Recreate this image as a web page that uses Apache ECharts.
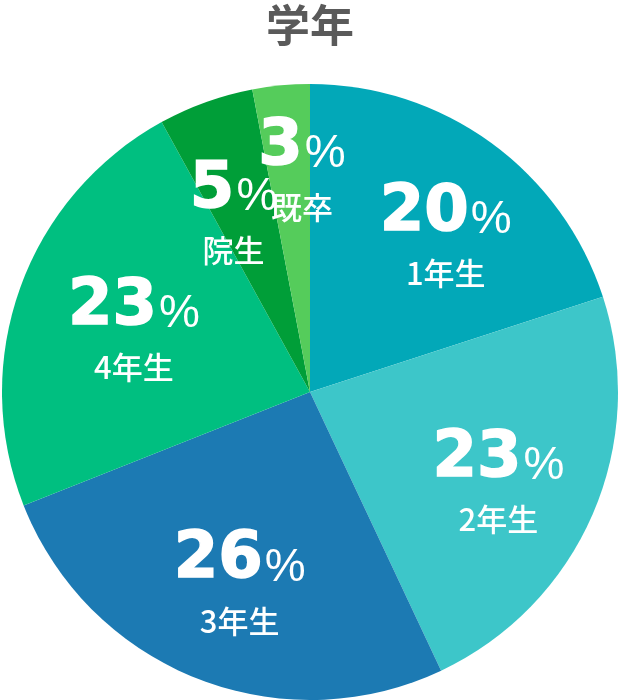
<!DOCTYPE html>
<html>
<head>
<meta charset="utf-8">
<script src="https://cdn.jsdelivr.net/npm/echarts@6/dist/echarts.min.js"></script>
<style>
html,body{margin:0;padding:0;background:#fff;}
#chart{width:620px;height:700px;}
</style>
</head>
<body>
<div id="chart"></div>
<script>
var titleText = '学年';
var categories = ['1年生', '2年生', '3年生', '4年生', '院生', '既卒'];
var values = [20, 23, 26, 23, 5, 3];
var colors = ['#02A8B8', '#3DC6C9', '#1C7AB3', '#00BF80', '#009E38', '#55CC5B'];

// style-only: radial distance of labels (px) and small per-label nudges
var LABEL_R = 202;
var labelOffsets = {
  '1年生': [13, 4],
  '2年生': [-1, 6],
  '4年生': [10, 3],
  '院生': [-12, 7],
  '既卒': [7, -25]
};

var total = values.reduce(function (a, b) { return a + b; }, 0);

var pieData = categories.map(function (c, i) {
  return { name: c, value: values[i], itemStyle: { color: colors[i] } };
});

// label anchors: mid-angle of each slice, placed through a polar coordinate system
var cum = 0;
var labelData = categories.map(function (c, i) {
  var mid = cum + values[i] / 2;
  cum += values[i];
  var d = { name: c, value: [LABEL_R, mid, values[i]] };
  if (labelOffsets[c]) d.label = { offset: labelOffsets[c] };
  return d;
});

var chart = echarts.init(document.getElementById('chart'));
chart.setOption({
  animation: false,
  title: {
    text: titleText,
    left: 'center',
    top: -2,
    textStyle: {
      fontFamily: '"Noto Sans CJK JP", sans-serif',
      fontSize: 44,
      fontWeight: 'bold',
      color: '#5a5a5a'
    }
  },
  polar: { center: [314, 402], radius: 308 },
  angleAxis: {
    type: 'value', min: 0, max: total, startAngle: 90, clockwise: true,
    axisLine: { show: false }, axisTick: { show: false },
    axisLabel: { show: false }, splitLine: { show: false }
  },
  radiusAxis: {
    type: 'value', min: 0, max: 308,
    axisLine: { show: false }, axisTick: { show: false },
    axisLabel: { show: false }, splitLine: { show: false }
  },
  series: [
    {
      type: 'pie',
      center: [310, 392],
      radius: [0, 308],
      startAngle: 90,
      clockwise: true,
      silent: true,
      z: 1,
      label: { show: false },
      labelLine: { show: false },
      itemStyle: { borderWidth: 0 },
      emphasis: { disabled: true },
      data: pieData
    },
    {
      type: 'scatter',
      coordinateSystem: 'polar',
      z: 5,
      silent: true,
      symbolSize: 1,
      itemStyle: { color: 'rgba(0,0,0,0)', opacity: 1 },
      emphasis: { disabled: true },
      label: {
        show: true,
        position: 'inside',
        align: 'center',
        verticalAlign: 'middle',
        opacity: 1,
        formatter: function (p) {
          return '{num|' + p.value[2] + '}{pct|%}\n{name|' + p.name + '}';
        },
        rich: {
          num: {
            fontFamily: '"DejaVu Sans", sans-serif',
            fontWeight: 'bold',
            fontSize: 64,
            color: '#fff',
            opacity: 1,
            textBorderColor: '#fff',
            textBorderWidth: 1.5,
            lineHeight: 62,
            verticalAlign: 'bottom'
          },
          pct: {
            fontFamily: '"Liberation Sans", Arial, sans-serif',
            fontWeight: 'normal',
            fontSize: 46,
            color: '#fff',
            opacity: 1,
            lineHeight: 62,
            verticalAlign: 'bottom',
            padding: [0, 0, 2, 2]
          },
          name: {
            fontFamily: '"Noto Sans CJK JP", sans-serif',
            fontWeight: 500,
            fontSize: 31,
            color: '#fff',
            opacity: 1,
            lineHeight: 56,
            align: 'center'
          }
        }
      },
      data: labelData
    }
  ]
});
</script>
</body>
</html>
